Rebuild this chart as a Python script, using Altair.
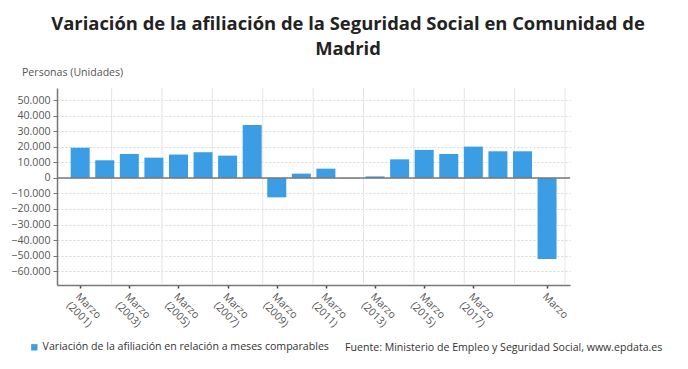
import altair as alt
import pandas as pd
import numpy as np

years = list(range(2001, 2021))
values = [19500, 11400, 15500, 13100, 15100, 16600, 14400, 34200, -12500, 2800,
          6000, -300, 1000, 12000, 18100, 15500, 20200, 17200, 17200, -52300]
tick_years = [2001, 2003, 2005, 2007, 2009, 2011, 2013, 2015, 2017, 2020]
y_ticks = list(range(-60000, 60000, 10000))
serie = "Variación de la afiliación en relación a meses comparables"
title_lines = ["Variación de la afiliación de la Seguridad Social en Comunidad de", "Madrid"]
y_title = "Personas (Unidades)"
source = "Fuente: Ministerio de Empleo y Seguridad Social, www.epdata.es"

df = pd.DataFrame({"year": years, "value": values, "serie": serie})

x_dom = [2000.26, 2020.73]
y_dom = [-69000, 58000]
xs = alt.Scale(domain=x_dom, nice=False, zero=False)
ys = alt.Scale(domain=y_dom, nice=False, zero=False)

grid_x = pd.DataFrame({"g": x_dom[1] - 2.05 * np.arange(10)})

FONT = "Open Sans"
FS = 10.6

x_axis = alt.Axis(values=tick_years, grid=False, title=None,
                  labelExpr="datum.value == 2020 ? 'Marzo' : ['Marzo', '(' + datum.value + ')']",
                  labelAngle=45, labelAlign="left", labelBaseline="top",
                  labelFontSize=FS, labelColor="#555", labelFont=FONT,
                  labelPadding=3, labelOverlap=False, labelBound=False, labelFlush=False,
                  domainColor="#777", domainWidth=1.5, tickColor="#444",
                  tickSize=3, tickWidth=1.5)
y_axis = alt.Axis(values=y_ticks, title=None,
                  labelExpr="replace(format(datum.value, ','), ',', '.')",
                  labelFontSize=FS, labelColor="#555", labelFont=FONT,
                  labelOverlap=False,
                  grid=True, gridDash=[2, 2], gridColor="#d8d8d8",
                  domainColor="#777", domainWidth=1.5, tickColor="#777",
                  tickSize=4, labelPadding=3)

vgrid = alt.Chart(grid_x).mark_rule(color="#e4e4e4", strokeWidth=1).encode(
    x=alt.X("g:Q", scale=xs, axis=x_axis)
)

bars = alt.Chart(df).mark_bar(size=19, color="#3b9de3").encode(
    x=alt.X("year:Q", scale=xs, axis=x_axis),
    y=alt.Y("value:Q", scale=ys, axis=y_axis),
    color=alt.Color("serie:N", scale=alt.Scale(range=["#3b9de3"]),
                    legend=alt.Legend(orient="none", legendX=-28, legendY=254,
                                      title=None, symbolType="square", symbolSize=40,
                                      labelFontSize=FS, labelColor="#333", labelOffset=3,
                                      labelFont=FONT, labelLimit=500)),
)

zero = alt.Chart(pd.DataFrame({"z": [0]})).mark_rule(color="#777", strokeWidth=1.5).encode(
    y=alt.Y("z:Q", scale=ys, axis=y_axis)
)

title_df = pd.DataFrame({"t": title_lines, "dy": [-58, -33]})
title = alt.Chart(title_df).mark_text(font=FONT, fontSize=18.4, fontWeight="bold",
                                      color="#222", align="center", baseline="alphabetic").encode(
    text="t:N", x=alt.value(291), y=alt.Y("dy:Q", scale=None)
)

ytitle = alt.Chart(pd.DataFrame({"t": [y_title]})).mark_text(
    font=FONT, fontSize=FS, color="#555", align="left", baseline="middle"
).encode(text="t:N", x=alt.value(-35), y=alt.value(-15))

src = alt.Chart(pd.DataFrame({"t": [source]})).mark_text(
    font=FONT, fontSize=FS, color="#333", align="left", baseline="middle"
).encode(text="t:N", x=alt.value(288), y=alt.value(260))

chart = alt.layer(vgrid, bars, zero, title, ytitle, src).properties(
    width=513, height=197,
    autosize=alt.AutoSizeParams(type="none"),
    padding={"left": 49, "top": 80, "right": 100, "bottom": 70},
).configure_view(stroke=None)

chart.save("out.html", embed_options={"renderer": "svg", "actions": False})
